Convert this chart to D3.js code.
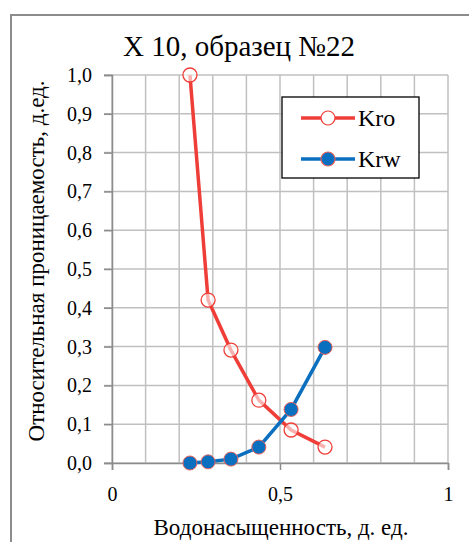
<!doctype html>
<html>
  <head>
    <meta charset="utf-8">
    <script src="https://cdnjs.cloudflare.com/ajax/libs/d3/7.8.5/d3.min.js"></script>
  </head>
  <body>
    <script>
      // data
      const sw = [0.232, 0.286, 0.354, 0.437, 0.533, 0.634];
      const kro = [1.0, 0.42, 0.291, 0.162, 0.085, 0.041];
      const krw = [0.0, 0.003, 0.01, 0.041, 0.138, 0.298];
      const xTicks = [0, 0.5, 1];
      const yTicks = d3.range(0, 11).map(i => i / 10);
      const seriesNames = ['Kro', 'Krw'];

      const font = '"Times New Roman"';
      const width = 469, height = 542;
      const margin = {left: 112, right: 21, top: 75, bottom: 79};

      d3.select('body').style('margin', '0');
      const svg = d3.select('body').append('svg')
        .attr('width', width)
        .attr('height', height)
        .style('display', 'block');

      // outer frame (runs off the right and bottom edge)
      svg.append('rect')
        .attr('x', 11).attr('y', 15)
        .attr('width', 480).attr('height', 560)
        .attr('fill', 'none')
        .attr('stroke', '#8c8c8c')
        .attr('stroke-width', 2);

      const x = d3.scaleLinear().domain([0, 1]).range([margin.left, width - margin.right]);
      const y = d3.scaleLinear().domain([0, 1]).range([height - margin.bottom, margin.top]);

      // grid
      const grid = svg.append('g');
      grid.selectAll('.vg')
        .data(d3.range(0, 11).map(i => i / 10))
        .join('line')
        .attr('x1', d => x(d)).attr('x2', d => x(d))
        .attr('y1', y(1)).attr('y2', y(0))
        .attr('stroke', '#c0c0c0')
        .attr('stroke-width', 1.5);
      grid.selectAll('.hg')
        .data(yTicks)
        .join('line')
        .attr('x1', x(0) - 8).attr('x2', x(1))
        .attr('y1', d => y(d)).attr('y2', d => y(d))
        .attr('stroke', '#c0c0c0')
        .attr('stroke-width', 1.5);

      // axes
      const yAxis = svg.append('g')
        .attr('transform', `translate(${x(0)},0)`)
        .call(d3.axisLeft(y).tickValues(yTicks).tickSize(8).tickPadding(12)
          .tickFormat(d => d3.format('.1f')(d).replace('.', ',')));
      const xAxis = svg.append('g')
        .attr('transform', `translate(0,${y(0)})`)
        .call(d3.axisBottom(x).tickValues(xTicks).tickSize(7).tickPadding(17)
          .tickFormat(d => d === 0.5 ? '0,5' : String(d)));
      [yAxis, xAxis].forEach(a => {
        a.attr('font-family', null).attr('font-size', null);
        a.select('.domain').attr('stroke', '#8c8c8c').attr('stroke-width', 1.5);
        a.selectAll('.tick line').attr('stroke', '#8c8c8c').attr('stroke-width', 1.5);
        a.selectAll('text')
          .style('font-family', font)
          .style('font-size', '20px')
          .attr('fill', '#000');
      });

      // lines
      const line = d3.line().x(d => x(d[0])).y(d => y(d[1]));
      const kroPts = sw.map((s, i) => [s, kro[i]]);
      const krwPts = sw.map((s, i) => [s, krw[i]]);

      svg.append('path').datum(kroPts)
        .attr('d', line)
        .attr('fill', 'none')
        .attr('stroke', '#ef3e38')
        .attr('stroke-width', 3.5);
      svg.append('path').datum(krwPts)
        .attr('d', line)
        .attr('fill', 'none')
        .attr('stroke', '#0b6fc0')
        .attr('stroke-width', 3.5);

      svg.selectAll('.kro')
        .data(kroPts)
        .join('circle')
        .attr('cx', d => x(d[0])).attr('cy', d => y(d[1]))
        .attr('r', 7)
        .attr('fill', '#fff')
        .attr('fill-opacity', 0.6)
        .attr('stroke', '#ef3e38')
        .attr('stroke-width', 1.3);
      svg.selectAll('.krw')
        .data(krwPts)
        .join('circle')
        .attr('cx', d => x(d[0])).attr('cy', d => y(d[1]))
        .attr('r', 7)
        .attr('fill', '#0b6fc0')
        .attr('stroke', '#e8605a')
        .attr('stroke-width', 1);

      // legend
      const legend = svg.append('g');
      legend.append('rect')
        .attr('x', 282).attr('y', 97)
        .attr('width', 137).attr('height', 81)
        .attr('fill', '#fff')
        .attr('stroke', '#000')
        .attr('stroke-width', 1.3);
      const items = [
        {name: seriesNames[0], color: '#ef3e38', fill: '#fff', edge: '#ef3e38'},
        {name: seriesNames[1], color: '#0b6fc0', fill: '#0b6fc0', edge: '#e8605a'}
      ];
      const li = legend.selectAll('g')
        .data(items)
        .join('g')
        .attr('transform', (d, i) => `translate(0,${118 + i * 41})`);
      li.append('line')
        .attr('x1', 301).attr('x2', 355)
        .attr('stroke', d => d.color)
        .attr('stroke-width', 3.5);
      li.append('circle')
        .attr('cx', 328).attr('r', 7)
        .attr('fill', d => d.fill)
        .attr('stroke', d => d.edge)
        .attr('stroke-width', 1.2);
      li.append('text')
        .attr('x', 358).attr('y', 8)
        .style('font-family', font)
        .style('font-size', '24px')
        .text(d => d.name);

      // titles
      svg.append('text')
        .attr('x', 239).attr('y', 56)
        .attr('text-anchor', 'middle')
        .style('font-family', font)
        .style('font-size', '29px')
        .text('X 10, образец №22');
      svg.append('text')
        .attr('x', 281).attr('y', 535)
        .attr('text-anchor', 'middle')
        .style('font-family', font)
        .style('font-size', '23px')
        .text('Водонасыщенность, д. ед.');
      svg.append('text')
        .attr('transform', `translate(44,261) rotate(-90)`)
        .attr('text-anchor', 'middle')
        .style('font-family', font)
        .style('font-size', '23px')
        .text('Относительная проницаемость, д.ед.');
    </script>
  </body>
</html>
